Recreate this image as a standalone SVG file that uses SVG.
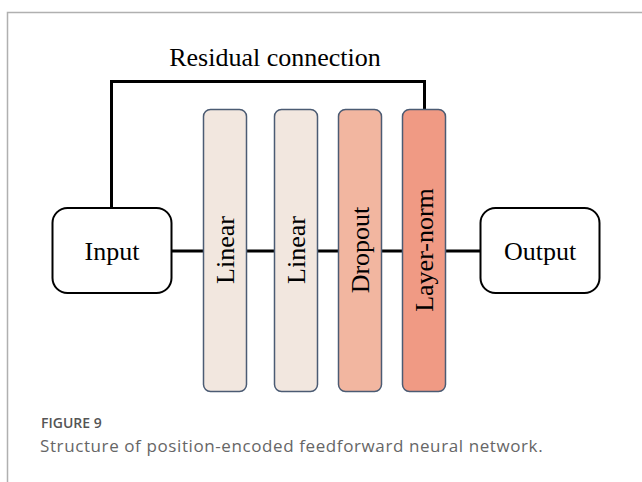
<svg xmlns="http://www.w3.org/2000/svg" width="642" height="482" viewBox="0 0 642 482">
<style>
.frame{fill:none;stroke:#b0b0b0;stroke-width:1.5}
.conn{fill:none;stroke:#000;stroke-width:3}
.io{fill:#fff;stroke:#000;stroke-width:2}
.bar{stroke:#4b5b73;stroke-width:1.5}
.lin{fill:#f2e7df}
.drop{fill:#f2b6a0}
.ln{fill:#f09a84}
.t{font-family:"Liberation Serif","Times New Roman",serif;font-size:26px;fill:#000;text-anchor:middle}
.cap1{font-family:"Open Sans","Noto Sans",sans-serif;font-size:14px;font-weight:600;fill:#555}
.cap2{font-family:"Open Sans","Noto Sans",sans-serif;font-size:17px;letter-spacing:0.6px;fill:#666}
</style>
<rect width="642" height="482" fill="#fff"/>
<path class="frame" d="M7.5,482 V12.5 H642"/>
<g id="connectors">
<path class="conn" d="M111.5,208 V81.5 H424.5 V110"/>
<path class="conn" d="M172,251 H204 M246,251 H275 M317,251 H339 M381,251 H403 M445,251 H481"/>
</g>
<g id="residual-label"><text class="t" x="275" y="66">Residual connection</text></g>
<g id="input"><rect class="io" x="52.5" y="208" width="119" height="85" rx="15"/><text class="t" x="112" y="260">Input</text></g>
<g id="linear1"><rect class="bar lin" x="203.5" y="109.5" width="43" height="282" rx="7"/><text class="t" transform="translate(234,250) rotate(-90)">Linear</text></g>
<g id="linear2"><rect class="bar lin" x="274.5" y="109.5" width="43" height="282" rx="7"/><text class="t" transform="translate(305,250) rotate(-90)">Linear</text></g>
<g id="dropout"><rect class="bar drop" x="338.5" y="109.5" width="43" height="282" rx="7"/><text class="t" transform="translate(369,250) rotate(-90)">Dropout</text></g>
<g id="layernorm"><rect class="bar ln" x="402.5" y="109.5" width="43" height="282" rx="7"/><text class="t" transform="translate(433,250) rotate(-90)">Layer-norm</text></g>
<g id="output"><rect class="io" x="480.5" y="208" width="119" height="85" rx="15"/><text class="t" x="540" y="260">Output</text></g>
<text class="cap1" x="41" y="428">FIGURE 9</text>
<text class="cap2" x="40" y="452">Structure of position-encoded feedforward neural network.</text>
</svg>
